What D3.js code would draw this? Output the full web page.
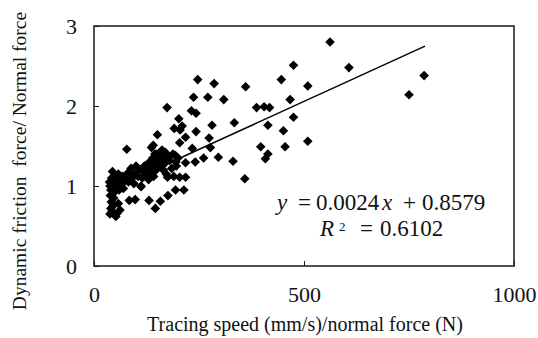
<!DOCTYPE html>
<html>
<head>
<meta charset="utf-8">
<script src="https://cdn.jsdelivr.net/npm/d3@7"></script>
<style>
  body { margin: 0; background: #fff; }
  svg text { font-family: "Liberation Serif", "Times New Roman", serif !important; fill: #111; }
</style>
</head>
<body>
<script>
// tracing speed / normal force (x) and dynamic friction / normal force (y)
var speed = [562, 475, 607, 786, 750, 446, 509, 467, 361, 387, 405, 418, 475, 414, 451, 509, 455, 397, 414, 408,
  359, 334, 331, 309, 286, 271, 247, 237, 232, 243, 243, 281, 274, 277, 296, 261, 241, 234, 174, 202,
  191, 210, 204, 218, 151, 78, 194, 218, 196, 204, 218, 194, 214, 176, 158, 131, 146, 175, 165, 137,
  145, 161, 178, 98, 84, 112, 205, 141,
  37, 38, 40, 42, 44, 39, 41, 40, 38, 43, 45, 47, 48, 46, 50, 52, 55, 58, 60, 62,
  55, 62, 52, 58, 65, 68, 70, 75, 78, 82, 85, 88, 90, 95, 98, 100, 105, 108, 112, 115,
  118, 120, 125, 128, 130, 132, 135, 138, 140, 142, 145, 148, 150, 152, 155, 158, 160, 162, 165, 168,
  170, 172, 175, 180, 185, 188, 190, 195, 200];
var friction = [2.80, 2.51, 2.48, 2.38, 2.14, 2.33, 2.25, 2.08, 2.24, 1.98, 1.99, 1.98, 1.86, 1.76, 1.69, 1.56, 1.49, 1.49, 1.40, 1.34,
  1.09, 1.79, 1.31, 2.08, 2.28, 2.11, 2.33, 2.11, 1.94, 1.91, 1.68, 1.76, 1.60, 1.48, 1.36, 1.35, 1.30, 1.47, 1.98, 1.84,
  1.72, 1.75, 1.54, 1.61, 1.64, 1.46, 1.38, 1.29, 1.25, 1.11, 1.11, 0.95, 0.95, 0.88, 0.81, 0.82, 0.72, 1.11, 1.20, 1.48,
  1.40, 1.40, 1.36, 0.83, 0.82, 0.99, 1.70, 1.51,
  1.05, 1.00, 0.95, 1.10, 1.18, 0.88, 0.80, 0.72, 0.65, 0.68, 0.75, 0.85, 0.92, 1.02, 1.12, 0.98, 1.05, 1.15, 0.95, 1.08,
  0.66, 0.70, 0.62, 0.78, 1.02, 1.12, 0.97, 1.07, 1.15, 1.05, 1.18, 1.22, 1.10, 1.03, 1.15, 1.25, 1.12, 1.20, 1.00, 1.10,
  1.18, 1.25, 1.15, 1.22, 1.08, 1.30, 1.18, 1.25, 1.35, 1.12, 1.28, 1.20, 1.40, 1.32, 1.25, 1.38, 1.30, 1.45, 1.35, 1.28,
  1.42, 1.15, 1.38, 1.32, 1.22, 1.40, 1.12, 1.30, 1.35];

// linear fit shown on the chart
var slope = 0.0024, intercept = 0.8579, rSquared = "0.6102";
var fitRange = [37, 788];

var xTicks = [0, 500, 1000];
var yTicks = [0, 1, 2, 3];

var svg = d3.select("body").append("svg")
  .attr("width", 538)
  .attr("height", 338);

var x = d3.scaleLinear().domain([0, 1000]).range([94, 514]);
var y = d3.scaleLinear().domain([0, 3]).range([266, 26]);

// plot frame
svg.append("rect")
  .attr("x", x(0)).attr("y", y(3))
  .attr("width", x(1000) - x(0)).attr("height", y(0) - y(3))
  .attr("fill", "none").attr("stroke", "#1a1a1a").attr("stroke-width", 1.5);

// axes, ticks pointing inward
var xAxis = svg.append("g")
  .attr("transform", "translate(0," + y(0) + ")")
  .call(d3.axisBottom(x).tickValues(xTicks).tickFormat(d3.format("d"))
    .tickSizeInner(-5).tickSizeOuter(0).tickPadding(20));
var yAxis = svg.append("g")
  .attr("transform", "translate(" + x(0) + ",0)")
  .call(d3.axisLeft(y).tickValues(yTicks).tickFormat(d3.format("d"))
    .tickSizeInner(-5).tickSizeOuter(0).tickPadding(17));
[xAxis, yAxis].forEach(function(g) {
  g.attr("font-family", null).attr("font-size", null);
  g.select(".domain").remove();
  g.selectAll("line").attr("stroke", "#1a1a1a");
  g.selectAll("text").style("font-size", "22px").attr("fill", "#111");
});

// trend line
svg.append("line")
  .attr("x1", x(fitRange[0])).attr("y1", y(slope * fitRange[0] + intercept))
  .attr("x2", x(fitRange[1])).attr("y2", y(slope * fitRange[1] + intercept))
  .attr("stroke", "#000").attr("stroke-width", 1.5);

// diamond markers
var diamond = "M0,-4.8L4.8,0L0,4.8L-4.8,0Z";
svg.append("g").selectAll("path")
  .data(d3.zip(speed, friction))
  .enter().append("path")
  .attr("d", diamond)
  .attr("transform", function(d) { return "translate(" + x(d[0]) + "," + y(d[1]) + ")"; })
  .attr("fill", "#000");

// equation
var eq = svg.append("text").attr("y", 210).style("font-size", "23px");
eq.append("tspan").attr("x", 277).attr("font-style", "italic").text("y");
eq.append("tspan").attr("x", 298).text("=");
eq.append("tspan").attr("x", 316).text("0.0024");
eq.append("tspan").attr("x", 382).attr("font-style", "italic").text("x");
eq.append("tspan").attr("x", 403).text("+");
eq.append("tspan").attr("x", 422).text("0.8579");

var r2 = svg.append("text").attr("y", 236).style("font-size", "23px");
r2.append("tspan").attr("x", 320).attr("font-style", "italic").text("R");
r2.append("tspan").attr("x", 339).attr("dy", -5).style("font-size", "13px").text("2");
r2.append("tspan").attr("x", 360).attr("dy", 5).text("=");
r2.append("tspan").attr("x", 380).text(rSquared);

// axis titles
svg.append("text")
  .attr("x", 305).attr("y", 331)
  .attr("text-anchor", "middle").style("font-size", "20px")
  .text("Tracing speed (mm/s)/normal force (N)");

svg.append("text")
  .attr("transform", "translate(26,161) rotate(-90)")
  .attr("text-anchor", "middle").style("font-size", "19.5px")
  .attr("xml:space", "preserve")
  .text("Dynamic friction  force/ Normal force");
</script>
</body>
</html>
